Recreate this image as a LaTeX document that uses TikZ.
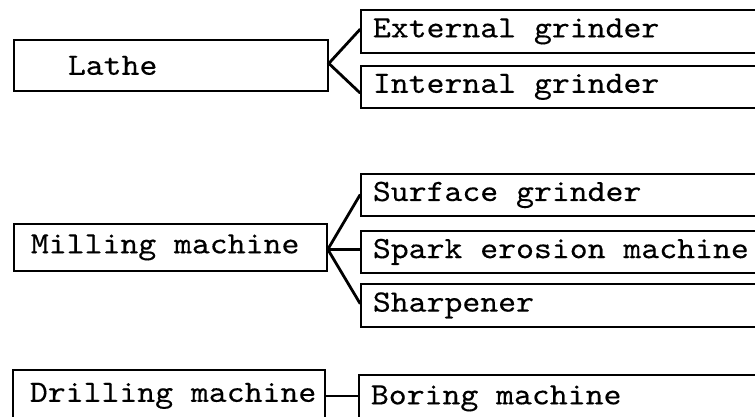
\documentclass[tikz,border=0pt]{standalone}
\usepackage{fontspec}
\setmonofont{lmmono10-regular.otf}[FakeStretch=1.1, FakeBold=0.3]
% typewriter face; interword space as wide as one character
\newcommand\machinefont{\ttfamily\fontsize{31}{35}\selectfont
  \spaceskip=\fontcharwd\font`\x\relax\xspaceskip=\spaceskip}
\begin{document}
\begin{tikzpicture}[x=1pt,y=-1pt,
  every node/.style={font=\machinefont},
  mbox/.style={draw, line width=1.8pt, rectangle, align=left, inner ysep=0pt,
               inner xsep=0pt, anchor=north west},
  textinset/.style={execute at begin node={\machinefont\hspace*{#1}}},
  obox/.style={mbox, text width=420pt, textinset=12pt},
  link/.style={line width=2.8pt, line cap=round}]
\useasboundingbox (0,0) rectangle (755,416);
\clip (0,0) rectangle (755,416);

% machines on the left
\node[mbox, text width=314pt, minimum height=51pt, textinset=54pt]
  (lathe) at (13,39) {Lathe};
\node[mbox, text width=313pt, minimum height=47pt, textinset=17pt]
  (mill) at (13,223) {Milling machine};
\node[mbox, text width=312pt, minimum height=52pt, textinset=17pt]
  (drill) at (12,369) {Drilling machine};

% related machines, boxes run off the right edge
\node[obox, minimum height=43pt] (ext)   at (360,9)   {External grinder};
\node[obox, minimum height=42pt] (int)   at (360,65)  {Internal grinder};
\node[obox, minimum height=42pt] (surf)  at (360,173) {Surface grinder};
\node[obox, minimum height=42pt] (spark) at (360,230) {Spark erosion machine};
\node[obox, minimum height=43pt] (sharp) at (360,283) {Sharpener};
\node[obox, minimum height=47pt] (bore)  at (358,374) {Boring machine};

% connectors
\coordinate (lfork) at ([yshift=2pt]lathe.east);
\draw[link] ([yshift=2pt]ext.west) -- (lfork) -- ([yshift=-6pt]int.west);
\coordinate (mfork) at ([yshift=-2pt]mill.east);
\draw[link] (surf.west) -- (mfork) -- ([yshift=2pt]sharp.west);
\draw[link] (mfork) -- (mfork -| spark.west);
\draw[link] (drill.east) -- (drill.east -| bore.west);
\end{tikzpicture}
\end{document}
